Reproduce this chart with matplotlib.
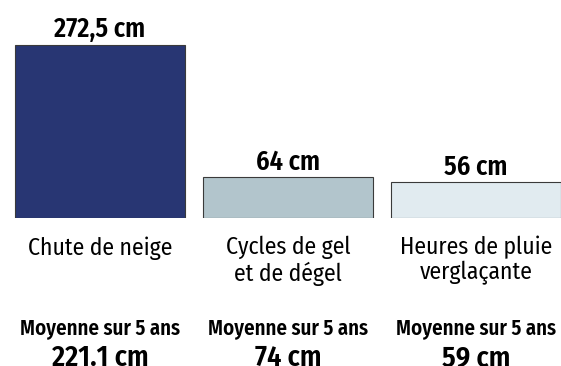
import matplotlib
matplotlib.use("Agg")
import matplotlib.pyplot as plt
import matplotlib.transforms as mtransforms

categories = ["Chute de neige", "Cycles de gel\net de dégel", "Heures de pluie\nverglaçante"]
values = [272.5, 64, 56]
value_labels = ["272,5 cm", "64 cm", "56 cm"]
avg_title = "Moyenne sur 5 ans"
avg_labels = ["221.1 cm", "74 cm", "59 cm"]
colors = ["#283673", "#b2c5cc", "#e1ebf0"]

plt.rcParams['font.family'] = ['Fira Sans Condensed', 'DejaVu Sans']

fig = plt.figure(figsize=(5.61, 3.66), dpi=100)
ax = fig.add_axes([0, 1 - 218 / 366, 1, 218 / 366])

x = list(range(len(values)))
ax.bar(x, values, width=170 / 188, color=colors, edgecolor="#3a3a3a", linewidth=0.8)
ax.set_xlim(-100 / 188, (561 - 100) / 188)
ax.set_ylim(0, 272.5 * 218 / 173)
ax.axis("off")

for xi, v, lab in zip(x, values, value_labels):
    ax.annotate(lab, (xi, v), xytext=(0, 5.5), textcoords="offset points",
                ha="center", va="baseline", fontsize=19, fontweight="semibold")

# text under the bars: x follows the bars, y is in figure fraction
trans = mtransforms.blended_transform_factory(ax.transData, fig.transFigure)
for xi, cat, avg in zip(x, categories, avg_labels):
    ax.text(xi, 1 - 236 / 366, cat, transform=trans, ha="center", va="top",
            fontsize=17, linespacing=1.1)
    ax.text(xi, 1 - 334 / 366, avg_title, transform=trans, ha="center", va="baseline",
            fontsize=15, fontweight="semibold")
    ax.text(xi, 1 - 366 / 366, avg, transform=trans, ha="center", va="baseline",
            fontsize=20.5, fontweight="semibold")

fig.savefig("out.png", dpi=100)
